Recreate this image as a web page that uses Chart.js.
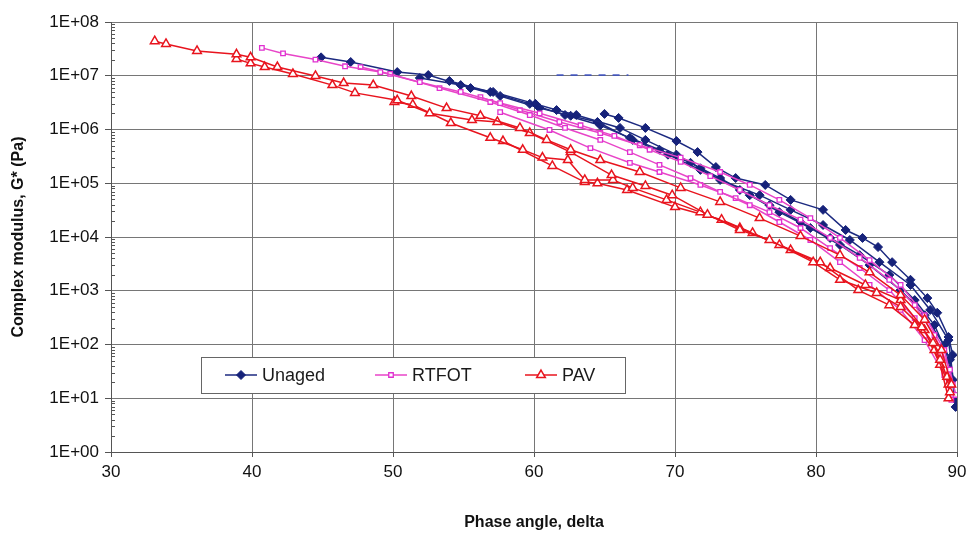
<!DOCTYPE html>
<html>
<head>
<meta charset="utf-8">
<script src="https://cdn.jsdelivr.net/npm/chart.js@4.4.1/dist/chart.umd.min.js"></script>
<style>
  html, body { margin: 0; padding: 0; background: #ffffff; }
  #wrap { position: relative; width: 968px; height: 533px; }
</style>
</head>
<body>
<div id="wrap"><canvas id="c" width="968" height="533"></canvas></div>
<script>
// ---------- data (phase angle in degrees, |G*| in Pa) ----------
const groupNames = ['Unaged', 'RTFOT', 'PAV'];
const xTicks = [30, 40, 50, 60, 70, 80, 90];
const yTickValues = [1, 10, 100, 1e3, 1e4, 1e5, 1e6, 1e7, 1e8];
const yTickLabels = ['1E+00','1E+01','1E+02','1E+03','1E+04','1E+05','1E+06','1E+07','1E+08'];

const unagedA = [[44.9,2.2e7],[47.0,1.8e7],[50.3,1.17e7],[52.5,1.03e7],[55.5,5.9e6],[57.1,5.0e6],[60.1,3.0e6],[61.6,2.3e6],[63.0,1.86e6],[66.1,1.07e6],[67.9,6.4e5],[70.1,3.4e5],[71.8,1.9e5],[73.2,1.15e5],[76.0,6.0e4],[78.2,3.2e4],[80.5,1.67e4],[82.4,8.8e3],[84.5,3.4e3],[86.7,1.28e3],[88.1,4.4e2],[89.4,1.21e2],[89.9,9.3]];
const unagedB = [[65.0,1.95e6],[66.0,1.64e6],[67.9,1.07e6],[70.1,6.1e5],[71.6,3.8e5],[72.9,2.0e5],[74.3,1.25e5],[76.4,9.3e4],[78.2,4.9e4],[80.5,3.2e4],[82.1,1.35e4],[83.3,9.6e3],[84.4,6.5e3],[85.4,3.4e3],[86.7,1.6e3],[87.9,7.3e2],[88.6,3.9e2],[89.4,1.38e2],[89.7,64]];
const unagedC = [[51.9,9.1e6],[54.8,6.7e6],[57.6,4.2e6],[60.4,2.5e6],[62.6,1.8e6],[64.5,1.38e6],[67.0,6.4e5],[69.5,3.4e5],[71.8,1.77e5],[74.6,7.5e4],[76.7,3.9e4],[78.9,1.9e4],[81.0,9.6e3],[83.1,4.6e3],[85.2,1.96e3],[87.0,6.7e2],[88.4,2.3e2],[89.5,52],[89.9,6.9]];
const unagedD = [[54.0,8.0e6],[56.9,5.0e6],[59.7,3.0e6],[62.2,1.86e6],[64.7,1.2e6],[66.8,7.0e5],[68.9,4.2e5],[71.1,2.4e5],[73.2,1.25e5],[75.3,6.0e4],[77.4,2.9e4],[79.6,1.47e4],[81.7,7.1e3],[83.8,3.0e3],[86.0,1.03e3],[87.7,3.5e2],[89.1,98],[89.7,22]];

const rtfotA = [[40.7,3.3e7],[42.2,2.6e7],[44.5,2.0e7],[46.6,1.5e7],[49.1,1.17e7],[51.9,7.6e6],[54.8,5.0e6],[57.6,3.1e6],[60.4,2.0e6],[63.3,1.2e6],[65.7,7.6e5],[68.2,4.2e5],[70.4,2.5e5],[72.5,1.36e5],[74.6,7.5e4],[76.7,3.9e4],[78.9,2.1e4],[81.0,9.6e3],[83.1,4.1e3],[85.2,1.6e3],[87.0,5.4e2],[88.4,1.5e2],[89.5,34],[89.9,11.5]];
const rtfotB = [[47.7,1.45e7],[49.8,1.08e7],[53.3,5.9e6],[56.9,3.25e6],[59.7,1.86e6],[62.2,1.07e6],[64.7,6.4e5],[66.8,3.8e5],[68.9,2.2e5],[71.1,1.25e5],[73.2,6.9e4],[75.3,3.9e4],[77.4,1.9e4],[79.6,8.8e3],[81.7,3.4e3],[83.8,1.28e3],[86.0,4.4e2],[87.7,1.21e2],[89.1,27],[89.7,11.5]];
const rtfotC = [[56.2,4.0e6],[59.0,2.3e6],[61.8,1.38e6],[64.7,8.6e5],[67.5,5.1e5],[70.4,3.0e5],[73.2,1.62e5],[75.3,9.3e4],[77.4,4.9e4],[79.6,2.25e4],[81.7,9.6e3],[83.8,3.7e3],[86.0,1.28e3],[87.7,3.5e2],[89.1,79],[89.7,18]];
const rtfotD = [[57.6,2.1e6],[61.1,9.8e5],[64.0,4.5e5],[66.8,2.4e5],[68.9,1.62e5],[71.8,9.3e4],[74.3,5.3e4],[76.7,2.9e4],[78.9,1.47e4],[81.0,6.2e3],[83.1,2.65e3],[85.2,1.03e3],[87.0,3.1e2],[88.8,64],[89.6,9.3]];

const pavA = [[33.1,4.4e7],[33.9,3.9e7],[36.1,2.9e7],[38.9,2.5e7],[39.9,2.2e7],[41.8,1.45e7],[44.5,9.9e6],[46.5,7.3e6],[48.6,6.7e6],[51.3,4.2e6],[53.8,2.5e6],[56.2,1.8e6],[59.0,1.07e6],[60.9,6.4e5],[62.6,4.2e5],[64.7,2.7e5],[67.5,1.62e5],[70.4,8.2e4],[73.2,4.5e4],[76.0,2.25e4],[78.9,1.04e4],[81.7,4.6e3],[83.8,2.2e3],[86.0,8.3e2],[87.7,2.9e2],[88.9,79],[89.6,18]];
const pavB = [[38.9,2.05e7],[39.9,1.7e7],[40.9,1.45e7],[42.9,1.08e7],[45.7,6.7e6],[47.3,4.8e6],[50.3,3.5e6],[52.6,2.0e6],[55.6,1.5e6],[57.4,1.38e6],[59.7,8.6e5],[62.6,3.8e5],[65.5,1.42e5],[67.9,8.9e4],[69.8,6.0e4],[72.3,2.6e4],[74.6,1.35e4],[76.7,8.8e3],[79.8,3.4e3],[81.7,1.6e3],[84.3,9.1e2],[86.0,5.0e2],[87.5,2.1e2],[88.3,1.07e2],[88.8,52],[89.3,25],[89.5,13]];
const pavC = [[50.1,3.25e6],[51.4,2.9e6],[54.1,1.32e6],[56.9,7.0e5],[59.2,4.2e5],[60.6,3.0e5],[62.4,2.7e5],[63.6,1.15e5],[65.6,1.15e5],[67.0,8.2e4],[69.4,4.9e4],[71.8,2.9e4],[74.6,1.47e4],[77.4,7.1e3],[80.3,3.4e3],[83.0,1.03e3],[85.2,5.4e2],[87.0,2.3e2],[88.4,79],[89.4,18]];
const pavD = [[57.8,6.1e5],[61.3,2.1e5],[63.6,1.05e5],[64.5,1.0e5],[66.6,7.5e4],[70.0,3.6e4],[73.3,2.1e4],[75.5,1.19e4],[78.2,5.7e3],[81.0,2.65e3],[83.5,1.28e3],[86.0,6.7e2],[87.7,1.86e2],[88.8,42],[89.4,10]];

const strayDash = [[61.6,1.03e7],[66.7,1.03e7]];

// ---------- styling ----------
const FONT = '"Liberation Sans", Arial, sans-serif';
const styles = {
  Unaged: { line: '#1c2a80', point: '#16227a', fill: '#16227a', pointStyle: 'rectRot', radius: 4.5, bw: 1 },
  RTFOT:  { line: '#e845c8', point: '#e030d0', fill: 'rgba(255,255,255,1)', pointStyle: 'rect', radius: 3.2, bw: 1.3 },
  PAV:    { line: '#e8141e', point: '#e8141e', fill: 'rgba(255,255,255,1)', pointStyle: 'triangle', radius: 5, bw: 1.5 }
};
const groups = {
  PAV: [pavA, pavB, pavC, pavD],
  RTFOT: [rtfotA, rtfotB, rtfotC, rtfotD],
  Unaged: [unagedA, unagedB, unagedC, unagedD]
};

const datasets = [];
['PAV', 'RTFOT', 'Unaged'].forEach(name => {
  const s = styles[name];
  groups[name].forEach(curve => {
    datasets.push({
      label: name,
      data: curve.map(p => ({ x: p[0], y: p[1] })),
      showLine: true,
      borderColor: s.line,
      borderWidth: 1.5,
      pointStyle: s.pointStyle,
      pointRadius: s.radius,
      pointBorderColor: s.point,
      pointBackgroundColor: s.fill,
      pointBorderWidth: s.bw,
      tension: 0
    });
  });
});
datasets.push({
  label: 'stray',
  data: strayDash.map(p => ({ x: p[0], y: p[1] })),
  showLine: true,
  borderColor: '#3a4fc0',
  borderWidth: 1.5,
  borderDash: [7, 7],
  pointRadius: 0
});

// ---------- plugins ----------
const minorTicks = {
  id: 'minorTicks',
  afterDatasetsDraw(chart) {
    const y = chart.scales.y, ctx = chart.ctx, left = chart.chartArea.left;
    ctx.save();
    ctx.strokeStyle = '#555';
    ctx.lineWidth = 1;
    for (let d = 0; d < 8; d++) {
      for (let m = 2; m <= 9; m++) {
        const py = Math.round(y.getPixelForValue(m * Math.pow(10, d))) + 0.5;
        ctx.beginPath();
        ctx.moveTo(left, py);
        ctx.lineTo(left + 4, py);
        ctx.stroke();
      }
    }
    ctx.restore();
  }
};

const boxLegend = {
  id: 'boxLegend',
  afterDraw(chart) {
    const ctx = chart.ctx;
    const bx = 201, by = 357, bw = 424, bh = 36;
    ctx.save();
    ctx.fillStyle = '#ffffff';
    ctx.fillRect(bx, by, bw, bh);
    ctx.strokeStyle = '#666';
    ctx.lineWidth = 1;
    ctx.strokeRect(bx + 0.5, by + 0.5, bw, bh);
    const cy = by + bh / 2;
    groupNames.forEach((name, i) => {
      const s = styles[name];
      const x0 = 225 + 150 * i;
      ctx.strokeStyle = s.line;
      ctx.lineWidth = 1.5;
      ctx.beginPath();
      ctx.moveTo(x0, cy);
      ctx.lineTo(x0 + 32, cy);
      ctx.stroke();
      ctx.fillStyle = s.fill;
      ctx.strokeStyle = s.point;
      ctx.lineWidth = s.bw;
      Chart.helpers.drawPoint(ctx, { pointStyle: s.pointStyle, radius: s.radius, borderWidth: s.bw, rotation: 0 }, x0 + 16, cy);
      ctx.fillStyle = '#1a1a1a';
      ctx.font = '18px ' + FONT;
      ctx.textBaseline = 'middle';
      ctx.textAlign = 'left';
      ctx.fillText(name, x0 + 37, cy + 1);
    });
    ctx.restore();
  }
};

// ---------- chart ----------
new Chart(document.getElementById('c'), {
  type: 'scatter',
  data: { datasets },
  options: {
    responsive: false,
    animation: false,
    devicePixelRatio: 1,
    layout: { padding: { left: 0, right: 11, top: 22, bottom: 0 } },
    plugins: { legend: { display: false }, tooltip: { enabled: false } },
    scales: {
      x: {
        type: 'linear',
        min: 30, max: 90,
        afterBuildTicks: s => { s.ticks = xTicks.map(v => ({ value: v })); },
        afterFit: s => { s.height = 81; s.paddingLeft = 0; s.paddingRight = 0; },
        grid: { color: '#767676', lineWidth: 1, tickLength: 5, tickColor: '#555' },
        border: { color: '#555', width: 1 },
        ticks: { color: '#111', font: { family: FONT, size: 17 }, padding: 5, maxRotation: 0,
                 callback: v => String(v) },
        title: { display: true, text: 'Phase angle, delta', color: '#111',
                 font: { family: FONT, size: 16, weight: 'bold' }, padding: { top: 0, bottom: 1 } }
      },
      y: {
        type: 'logarithmic',
        min: 1, max: 1e8,
        afterBuildTicks: s => { s.ticks = yTickValues.map(v => ({ value: v, major: true })); },
        afterFit: s => { s.width = 111; },
        grid: { color: '#767676', lineWidth: 1, tickLength: 6, tickColor: '#555' },
        border: { color: '#555', width: 1 },
        ticks: { color: '#111', font: { family: FONT, size: 17 }, padding: 6,
                 callback: v => yTickLabels[Math.round(Math.log10(v))] },
        title: { display: true, text: 'Complex modulus, G* (Pa)', color: '#111',
                 font: { family: FONT, size: 16, weight: 'bold' }, padding: { top: 9, bottom: 0 } }
      }
    }
  },
  plugins: [minorTicks, boxLegend]
});
</script>
</body>
</html>
